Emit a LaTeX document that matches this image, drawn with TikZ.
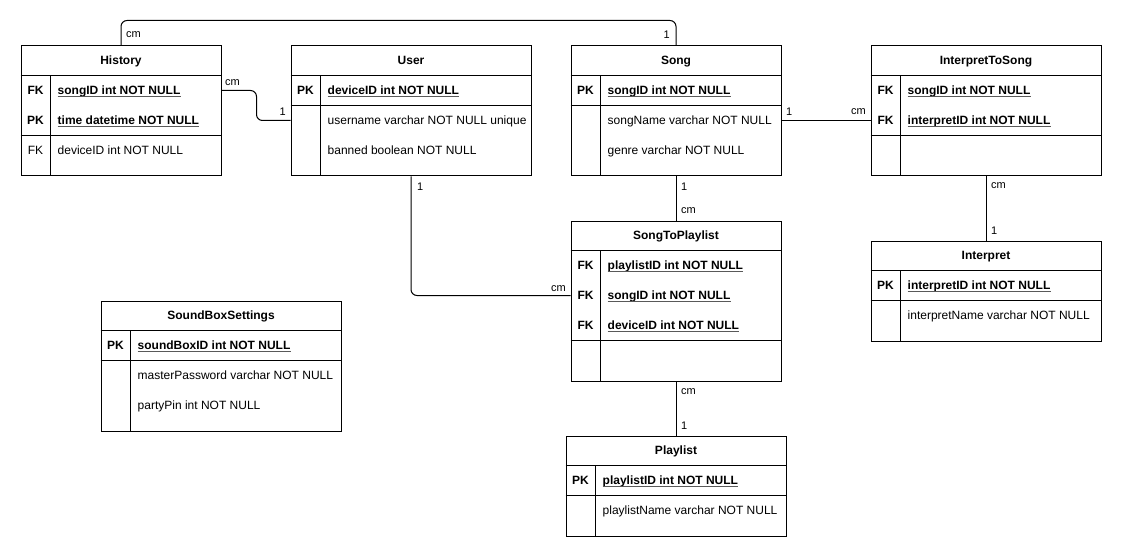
\documentclass[tikz,border=0pt]{standalone}
\usepackage{fontspec}
\setmainfont{Liberation Sans}
\usetikzlibrary{calc}
\tikzset{
  tbox/.style={draw, line width=1pt, rectangle, inner sep=0pt, anchor=north west},
  txtbase/.style={inner sep=0pt, text height=8.6pt, text depth=0pt},
  ttitle/.style={txtbase, font=\fontsize{12}{14}\selectfont\bfseries},
  tline/.style={line width=1pt},
  keyb/.style={txtbase, font=\fontsize{12}{14}\selectfont\bfseries},
  keyr/.style={txtbase, font=\fontsize{12}{14}\selectfont},
  fldb/.style={keyb, anchor=west},
  fldr/.style={keyr, anchor=west},
  uline/.style={line width=0.9pt, draw=black!65},
  conn/.style={line width=1pt, rounded corners=6pt},
  lbl/.style={inner sep=0pt, font=\fontsize{11}{13}\selectfont},
}
% #1 name, #2 x, #3 y, #4 width, #5 height, #6 title, #7 separator offset
\newcommand{\ertab}[7]{%
  \node[tbox, minimum width=#4pt, minimum height=#5pt] (#1) at (#2,#3) {};
  \node[ttitle] (#1-title) at ($(#1.north)+(0pt,-15pt)$) {#6};
  \draw[tline] ($(#1.north west)+(0pt,-30pt)$) -- ($(#1.north east)+(0pt,-30pt)$);
  \draw[tline] ($(#1.north west)+(0pt,-#7pt)$) -- ($(#1.north east)+(0pt,-#7pt)$);
  \draw[tline] ($(#1.north west)+(30pt,-30pt)$) -- ($(#1.south west)+(30pt,0pt)$);
}
% key row: #1 table, #2 id, #3 centre offset, #4 key, #5 field
\newcommand{\krow}[5]{%
  \node[keyb] (#1-#2-key) at ($(#1.north west)+(15pt,-#3pt)$) {#4};
  \node[fldb] (#1-#2) at ($(#1.north west)+(37pt,-#3pt)$) {#5};
  \draw[uline] ($(#1-#2.base west)+(0pt,-2pt)$) -- ($(#1-#2.base east)+(0pt,-2pt)$);
}
% plain row with key label
\newcommand{\prowk}[5]{%
  \node[keyr] (#1-#2-key) at ($(#1.north west)+(15pt,-#3pt)$) {#4};
  \node[fldr] (#1-#2) at ($(#1.north west)+(37pt,-#3pt)$) {#5};
}
% plain row without key label
\newcommand{\prow}[4]{%
  \node[fldr] (#1-#2) at ($(#1.north west)+(37pt,-#3pt)$) {#4};
}
\begin{document}
\begin{tikzpicture}[x=1pt,y=-1pt]
\useasboundingbox[fill=white] (0,0) rectangle (1121,556);

% History
\ertab{History}{20.5}{45.5}{200}{130}{History}{90}
\krow{History}{songID}{45}{FK}{songID int NOT NULL}
\krow{History}{time}{75}{PK}{time datetime NOT NULL}
\prowk{History}{deviceID}{105}{FK}{deviceID int NOT NULL}

% User
\ertab{User}{290.5}{45.5}{240}{130}{User}{60}
\krow{User}{deviceID}{45}{PK}{deviceID int NOT NULL}
\prow{User}{username}{75}{username varchar NOT NULL unique}
\prow{User}{banned}{105}{banned boolean NOT NULL}

% Song
\ertab{Song}{570.5}{45.5}{210}{130}{Song}{60}
\krow{Song}{songID}{45}{PK}{songID int NOT NULL}
\prow{Song}{songName}{75}{songName varchar NOT NULL}
\prow{Song}{genre}{105}{genre varchar NOT NULL}

% InterpretToSong
\ertab{ITS}{870.5}{45.5}{230}{130}{InterpretToSong}{90}
\krow{ITS}{songID}{45}{FK}{songID int NOT NULL}
\krow{ITS}{interpretID}{75}{FK}{interpretID int NOT NULL}

% Interpret
\ertab{Interpret}{870.5}{240.5}{230}{100}{Interpret}{60}
\krow{Interpret}{interpretID}{45}{PK}{interpretID int NOT NULL}
\prow{Interpret}{interpretName}{75}{interpretName varchar NOT NULL}

% SongToPlaylist
\ertab{STP}{570.5}{220.5}{210}{160}{SongToPlaylist}{120}
\krow{STP}{playlistID}{45}{FK}{playlistID int NOT NULL}
\krow{STP}{songID}{75}{FK}{songID int NOT NULL}
\krow{STP}{deviceID}{105}{FK}{deviceID int NOT NULL}

% SoundBoxSettings
\ertab{SBS}{100.5}{300.5}{240}{130}{SoundBoxSettings}{60}
\krow{SBS}{soundBoxID}{45}{PK}{soundBoxID int NOT NULL}
\prow{SBS}{masterPassword}{75}{masterPassword varchar NOT NULL}
\prow{SBS}{partyPin}{105}{partyPin int NOT NULL}

% Playlist
\ertab{Playlist}{565.5}{435.5}{220}{100}{Playlist}{60}
\krow{Playlist}{playlistID}{45}{PK}{playlistID int NOT NULL}
\prow{Playlist}{playlistName}{75}{playlistName varchar NOT NULL}

% connectors
\draw[conn] (History.north) -- ++(0pt,25pt) -| (Song.north);
\draw[conn] (History-songID -| History.east) -- ++(35pt,0pt) |- (User-username -| User.west);
\draw[conn] (User.south) |- (STP-songID -| STP.west);
\draw[conn] (Song-songName -| Song.east) -- (ITS-interpretID -| ITS.west);
\draw[conn] (Song.south) -- (STP.north);
\draw[conn] (ITS.south) -- (Interpret.north);
\draw[conn] (STP.south) -- (Playlist.north);

% cardinality labels
\node[lbl, anchor=base west] (l1) at (126,38) {cm};
\node[lbl, anchor=base east] (l2) at (670,39) {1};
\node[lbl, anchor=base west] (l3) at (225,86) {cm};
\node[lbl, anchor=base east] (l4) at (286,116) {1};
\node[lbl, anchor=base west] (l5) at (417,190) {1};
\node[lbl, anchor=base east] (l6) at (566,291) {cm};
\node[lbl, anchor=base west] (l7) at (681,190) {1};
\node[lbl, anchor=base west] (l8) at (681,213) {cm};
\node[lbl, anchor=base west] (l9) at (786,116) {1};
\node[lbl, anchor=base east] (l10) at (866,115) {cm};
\node[lbl, anchor=base west] (l11) at (991,189) {cm};
\node[lbl, anchor=base west] (l12) at (991,234) {1};
\node[lbl, anchor=base west] (l13) at (681,394) {cm};
\node[lbl, anchor=base west] (l14) at (681,429) {1};
\end{tikzpicture}
\end{document}
